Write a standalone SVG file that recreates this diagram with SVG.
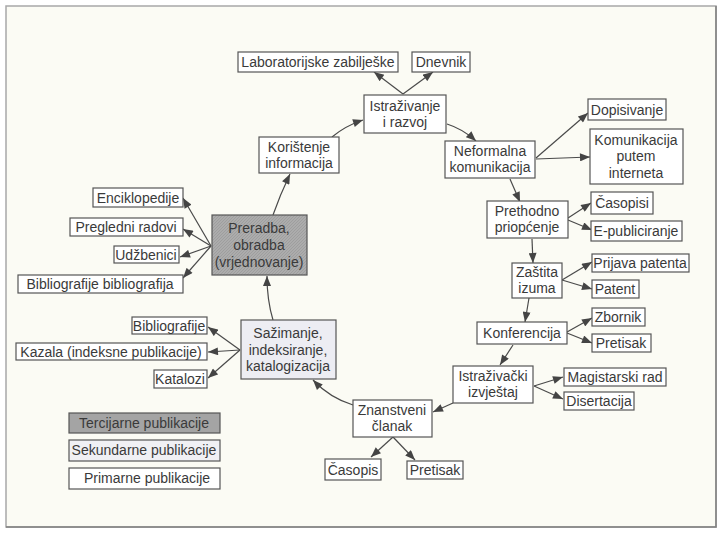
<svg xmlns="http://www.w3.org/2000/svg" width="720" height="540" viewBox="0 0 720 540">
<style>
.b{fill:#ffffff;stroke:#555;stroke-width:1.2}
.t{fill:#3a3a3a;font-family:"Liberation Sans",Arial,sans-serif;font-size:14px;text-anchor:middle}
.c{fill:none;stroke:#4a4a4a;stroke-width:1.2;marker-end:url(#ah)}
</style>
<defs>
<marker id="ah" viewBox="0 0 10 8" refX="10" refY="4" markerWidth="11" markerHeight="8" orient="auto" markerUnits="userSpaceOnUse"><path d="M0,0 L10,4 L0,8 z" fill="#444"/></marker>
<pattern id="hatch" width="3" height="3" patternUnits="userSpaceOnUse"><rect width="3" height="3" fill="#acacac"/><path d="M0,3 L3,0" stroke="#9a9a9a" stroke-width="0.8"/></pattern>
</defs>
<rect width="720" height="540" fill="#ffffff"/>
<rect x="6" y="6" width="710" height="521" fill="#fbfbf4" stroke="#a8a8a8" stroke-width="1.5"/>
<path d="M716,6 L716,527 L6,527" fill="none" stroke="#808080" stroke-width="1.5"/>

<g id="connectors">
<path class="c" d="M403,94 L374,72"/>
<path class="c" d="M403,94 L433,72"/>
<path class="c" d="M332,137 Q345,126 363,120"/>
<path class="c" d="M447,124 Q463,129 476,141"/>
<path class="c" d="M536,158 L588,113"/>
<path class="c" d="M536,159 L590,157"/>
<path class="c" d="M510,179 L520,202"/>
<path class="c" d="M568,218 L591,203"/>
<path class="c" d="M568,220 L592,230"/>
<path class="c" d="M532,239 L533,263"/>
<path class="c" d="M562,280 L592,262"/>
<path class="c" d="M562,280 L592,289"/>
<path class="c" d="M529,298 L525,322"/>
<path class="c" d="M567,332 L592,318"/>
<path class="c" d="M567,333 L592,343"/>
<path class="c" d="M513,345 L500,365"/>
<path class="c" d="M534,386 L563,377"/>
<path class="c" d="M534,386 L563,399"/>
<path class="c" d="M453,403 L433,412"/>
<path class="c" d="M393,437 L371,457"/>
<path class="c" d="M393,437 L415,460"/>
<path class="c" d="M353,405 Q330,398 313,380"/>
<path class="c" d="M273,320 Q267,300 267,276"/>
<path class="c" d="M273,215 Q280,195 290,174"/>
<path class="c" d="M211,246 L183,198"/>
<path class="c" d="M211,246 L183,229"/>
<path class="c" d="M211,246 L180,257"/>
<path class="c" d="M211,246 L183,278"/>
<path class="c" d="M240,350 L208,327"/>
<path class="c" d="M240,350 L208,352"/>
<path class="c" d="M240,350 L208,378"/>
</g>

<g id="lab"><rect class="b" x="238" y="52" width="160" height="20"/><text class="t" x="318" y="67">Laboratorijske zabilješke</text></g>
<g id="dnevnik"><rect class="b" x="412" y="52" width="58" height="20"/><text class="t" x="441" y="67">Dnevnik</text></g>
<g id="istrazivanje"><rect class="b" x="364" y="95" width="82" height="38"/><text class="t" x="405" y="111">Istraživanje</text><text class="t" x="405" y="127">i razvoj</text></g>
<g id="koristenje"><rect class="b" x="259" y="137" width="80" height="36"/><text class="t" x="299" y="152">Korištenje</text><text class="t" x="299" y="168">informacija</text></g>
<g id="neformalna"><rect class="b" x="445" y="141" width="90" height="37"/><text class="t" x="490" y="156">Neformalna</text><text class="t" x="490" y="172">komunikacija</text></g>
<g id="dopisivanje"><rect class="b" x="588" y="99" width="78" height="21"/><text class="t" x="627" y="115">Dopisivanje</text></g>
<g id="komunikacija"><rect class="b" x="590" y="129" width="93" height="55"/><text class="t" x="636" y="145">Komunikacija</text><text class="t" x="636" y="161">putem</text><text class="t" x="636" y="178">interneta</text></g>
<g id="prethodno"><rect class="b" x="487" y="201" width="81" height="37"/><text class="t" x="527" y="216">Prethodno</text><text class="t" x="527" y="232">priopćenje</text></g>
<g id="casopisi"><rect class="b" x="591" y="192" width="62" height="22"/><text class="t" x="622" y="208">Časopisi</text></g>
<g id="epubliciranje"><rect class="b" x="591" y="221" width="91" height="20"/><text class="t" x="636" y="236">E-publiciranje</text></g>
<g id="zastita"><rect class="b" x="512" y="263" width="50" height="35"/><text class="t" x="537" y="277">Zaštita</text><text class="t" x="537" y="293">izuma</text></g>
<g id="prijava"><rect class="b" x="592" y="254" width="97" height="18"/><text class="t" x="640" y="268">Prijava patenta</text></g>
<g id="patent"><rect class="b" x="592" y="280" width="47" height="18"/><text class="t" x="615" y="294">Patent</text></g>
<g id="konferencija"><rect class="b" x="477" y="322" width="90" height="22"/><text class="t" x="522" y="338">Konferencija</text></g>
<g id="zbornik"><rect class="b" x="592" y="308" width="53" height="18"/><text class="t" x="618" y="322">Zbornik</text></g>
<g id="pretisak1"><rect class="b" x="592" y="334" width="59" height="18"/><text class="t" x="621" y="348">Pretisak</text></g>
<g id="istrazivacki"><rect class="b" x="453" y="366" width="80" height="37"/><text class="t" x="493" y="381">Istraživački</text><text class="t" x="493" y="397">izvještaj</text></g>
<g id="magistarski"><rect class="b" x="564" y="368" width="102" height="18"/><text class="t" x="615" y="382">Magistarski rad</text></g>
<g id="disertacija"><rect class="b" x="564" y="392" width="70" height="18"/><text class="t" x="599" y="406">Disertacija</text></g>
<g id="znanstveni"><rect class="b" x="353" y="400" width="79" height="37"/><text class="t" x="392" y="415">Znanstveni</text><text class="t" x="392" y="431">članak</text></g>
<g id="casopis"><rect class="b" x="325" y="459" width="56" height="21"/><text class="t" x="353" y="475">Časopis</text></g>
<g id="pretisak2"><rect class="b" x="407" y="461" width="56" height="18"/><text class="t" x="435" y="475">Pretisak</text></g>
<g id="sazimanje"><rect class="b" x="241" y="320" width="95" height="59" style="fill:#ededf3"/><text class="t" x="288" y="338">Sažimanje,</text><text class="t" x="288" y="355">indeksiranje,</text><text class="t" x="288" y="371">katalogizacija</text></g>
<g id="preradba"><rect class="b" x="212" y="215" width="95" height="60" style="fill:url(#hatch)"/><text class="t" x="259" y="233">Preradba,</text><text class="t" x="259" y="250">obradba</text><text class="t" x="259" y="267">(vrjednovanje)</text></g>
<g id="enciklopedije"><rect class="b" x="93" y="188" width="90" height="19"/><text class="t" x="138" y="203">Enciklopedije</text></g>
<g id="pregledni"><rect class="b" x="70" y="218" width="113" height="18"/><text class="t" x="126" y="232">Pregledni radovi</text></g>
<g id="udzbenici"><rect class="b" x="114" y="246" width="65" height="17"/><text class="t" x="146" y="260">Udžbenici</text></g>
<g id="bibbib"><rect class="b" x="18" y="275" width="165" height="18"/><text class="t" x="100" y="289">Bibliografije bibliografija</text></g>
<g id="bibliografije"><rect class="b" x="132" y="317" width="75" height="17"/><text class="t" x="169" y="331">Bibliografije</text></g>
<g id="kazala"><rect class="b" x="16" y="343" width="191" height="17"/><text class="t" x="111" y="357">Kazala (indeksne publikacije)</text></g>
<g id="katalozi"><rect class="b" x="154" y="370" width="53" height="18"/><text class="t" x="180" y="384">Katalozi</text></g>
<g id="legend">
<g id="leg-tercijarne"><rect class="b" x="69" y="413" width="151" height="20" style="fill:#a4a4a4"/><text class="t" x="144" y="428">Tercijarne publikacije</text></g>
<g id="leg-sekundarne"><rect class="b" x="69" y="440" width="151" height="21" style="fill:#f0f0f4"/><text class="t" x="144" y="455">Sekundarne publikacije</text></g>
<g id="leg-primarne"><rect class="b" x="69" y="468" width="151" height="21"/><text class="t" x="147" y="483">Primarne publikacije</text></g>
</g>
</svg>
